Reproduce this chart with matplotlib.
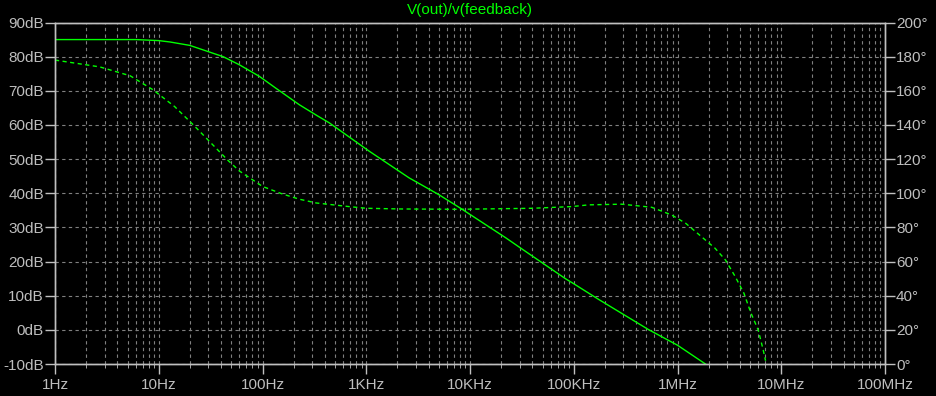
import matplotlib
matplotlib.use('Agg')
import matplotlib.pyplot as plt
from matplotlib.ticker import FixedLocator, LogLocator, NullFormatter

# Gain (dB)
mag_freq = [1, 3, 6, 10, 12.8, 19.9, 29.8, 41.7, 60, 93.6, 134, 227, 337, 441, 1070,
            2590, 5000, 8500, 22000, 29600, 83000, 100000, 174000, 524000, 1.0e6,
            1.86e6, 2.5e6]
mag_db = [85, 85, 85, 84.7, 84.3, 83.3, 81.5, 80.0, 77.6, 74.2, 70.8, 65.9, 62.7, 60.6,
          52.3, 44.5, 39.6, 35.2, 27.0, 24.3, 15.0, 13.5, 8.9, 0.1, -4.5, -10, -13]

# Phase (degrees)
ph_freq = [1, 2.7, 5.3, 8.8, 14.2, 22, 46, 60, 100, 155, 227, 330, 680, 1000, 2100,
           7800, 40000, 96000, 139000, 290000, 563000, 876000, 1.2e6, 1.7e6, 2.3e6,
           2.9e6, 3.6e6, 4.37e6, 5.1e6, 6.0e6, 6.7e6, 7.06e6]
ph_deg = [178, 174, 168.8, 160.6, 150.8, 139.5, 119.5, 113, 104, 99.6, 96.5, 94.3,
          92.2, 91.2, 90.8, 90.6, 91.2, 92.2, 93.2, 93.6, 91.8, 87.3, 82.4, 74.6, 67.8,
          60.9, 51.2, 41.4, 29.9, 19.9, 8.2, 1.9]

x_ticks = [1, 10, 100, 1e3, 1e4, 1e5, 1e6, 1e7, 1e8]
x_labels = ['1Hz', '10Hz', '100Hz', '1KHz', '10KHz', '100KHz', '1MHz', '10MHz', '100MHz']
db_ticks = list(range(-10, 91, 10))
db_labels = [f'{v}dB' for v in db_ticks]
deg_ticks = list(range(0, 201, 20))
deg_labels = [f'{v}°' for v in deg_ticks]

green = '#00ff00'
frame = '#c0c0c0'
txt = '#bebebe'
plt.rcParams['font.family'] = ['Liberation Sans', 'DejaVu Sans']

fig = plt.figure(figsize=(9.36, 3.96), dpi=100, facecolor='black')
ax = fig.add_axes([55 / 936, 32 / 396, 830 / 936, 341.5 / 396])
ax.set_facecolor('black')
ax2 = ax.twinx()

ax.plot(mag_freq, mag_db, color=green, lw=1.0)
ax2.plot(ph_freq, ph_deg, color=green, lw=1.0, dashes=(3, 2.5))

ax.set_xscale('log')
ax.set_xlim(1, 1e8)
ax.set_ylim(-10, 90)
ax2.set_ylim(0, 200)

ax.xaxis.set_major_locator(FixedLocator(x_ticks))
ax.set_xticklabels(x_labels)
ax.xaxis.set_minor_locator(LogLocator(base=10, subs=range(2, 10), numticks=100))
ax.xaxis.set_minor_formatter(NullFormatter())
ax.set_yticks(db_ticks)
ax.set_yticklabels(db_labels)
ax2.set_yticks(deg_ticks)
ax2.set_yticklabels(deg_labels)

ax.grid(True, which='both', axis='x', color='#808080', lw=0.8, dashes=(3, 3))
ax.grid(True, which='major', axis='y', color='#808080', lw=0.8, dashes=(3, 3))

for a in (ax, ax2):
    for s in a.spines.values():
        s.set_color(frame)
        s.set_linewidth(1.0)
    a.tick_params(colors=frame, labelcolor=txt, labelsize=11, width=1.0)
ax.tick_params(axis='y', length=7, pad=1)
ax2.tick_params(axis='y', length=7, pad=1)
ax.tick_params(axis='x', which='major', length=7, pad=3)
ax.tick_params(axis='x', which='minor', length=3, color=frame)

fig.text(470 / 936, 1 - 10 / 396, 'V(out)/v(feedback)', color=green, fontsize=11,
         ha='center', va='center')

fig.savefig('out.png', dpi=100, facecolor='black')
